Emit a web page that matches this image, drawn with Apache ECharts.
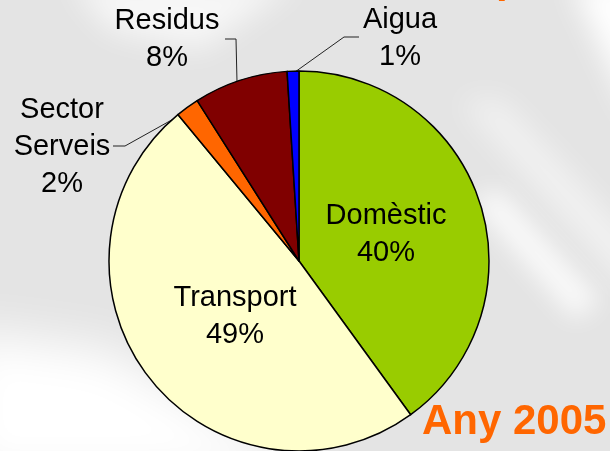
<!DOCTYPE html>
<html>
<head>
<meta charset="utf-8">
<script src="https://cdn.jsdelivr.net/npm/echarts@6/dist/echarts.min.js"></script>
<style>
  html, body { margin: 0; padding: 0; }
  #chart { width: 610px; height: 451px; }
</style>
</head>
<body>
<div id="chart"></div>
<script>
// sectors, clockwise from 12 o'clock
const sectors = ['Domèstic', 'Transport', 'Sector Serveis', 'Residus', 'Aigua']
const shares = [40, 49, 2, 8, 1]
const colors = ['#99cc00', '#ffffcc', '#ff6600', '#800000', '#0000ff']
const yearLabel = 'Any 2005'

const font = 'Liberation Sans, Arial, sans-serif'

// where the outside labels sit (text block centre + leader line)
const outsideLabels = {
  2: { x: 62, y: 147, line: [[177, 117], [125, 146], [113, 146]] },
  3: { x: 167, y: 39, line: [[237, 82], [236, 39], [225, 39]] },
  4: { x: 400, y: 38, line: [[295, 72], [344, 37], [359, 37]] }
}
const insideLabels = {
  0: { x: 386, y: 234 },
  1: { x: 235, y: 316 }
}

// soft white light streaks in the slide background (drawn as blurred shadows only)
const OFF = 2000
function streak(points, alpha, blur) {
  return {
    type: 'polygon', z: -10, silent: true,
    shape: { points: points.map(p => [p[0] - OFF, p[1]]) },
    style: { fill: '#fff', shadowBlur: blur, shadowOffsetX: OFF, shadowColor: 'rgba(255,255,255,' + alpha + ')' }
  }
}

const chart = echarts.init(document.getElementById('chart'))

chart.setOption({
  backgroundColor: '#e4e4e4',
  animation: false,
  graphic: [
    streak([[70, -20], [300, -20], [200, 50], [110, 30]], 0.7, 30),
    streak([[-40, 330], [110, 350], [330, 480], [-40, 480]], 1, 50),
    streak([[570, -20], [640, -20], [640, 130]], 1, 30),
    streak([[460, 100], [500, 100], [640, 250], [640, 300]], 0.55, 30),
    streak([[470, 200], [500, 190], [600, 300], [575, 320]], 0.8, 25),
    { type: 'text', z: 100, left: 422, top: 401,
      style: { text: yearLabel, fill: '#ff6600', font: 'bold 42px ' + font } },
    // descender of the cut-off slide title
    { type: 'text', z: 100, left: 496, top: -41,
      style: { text: 'p', fill: '#ff6600', font: 'bold 42px ' + font } }
  ],
  series: [{
    type: 'pie',
    center: [299, 261],
    radius: 190,
    startAngle: 90,
    clockwise: true,
    avoidLabelOverlap: false,
    percentPrecision: 0,
    itemStyle: { borderColor: '#000', borderWidth: 1.5 },
    label: {
      color: '#000',
      fontFamily: font,
      fontSize: 29,
      lineHeight: 37,
      align: 'center',
      formatter: p => p.name.replace(' ', '\n') + '\n' + p.percent + '%'
    },
    labelLine: { lineStyle: { color: '#222', width: 1 } },
    labelLayout: function (params) {
      const o = outsideLabels[params.dataIndex]
      if (o) {
        return { x: o.x, y: o.y, align: 'center', verticalAlign: 'middle', labelLinePoints: o.line }
      }
      const i = insideLabels[params.dataIndex]
      return { x: i.x, y: i.y, align: 'center', verticalAlign: 'middle' }
    },
    data: sectors.map((name, idx) => {
      const inside = idx < 2
      return {
        name,
        value: shares[idx],
        itemStyle: { color: colors[idx] },
        label: { position: inside ? 'inside' : 'outside' },
        labelLine: { show: !inside }
      }
    })
  }]
})
</script>
</body>
</html>
